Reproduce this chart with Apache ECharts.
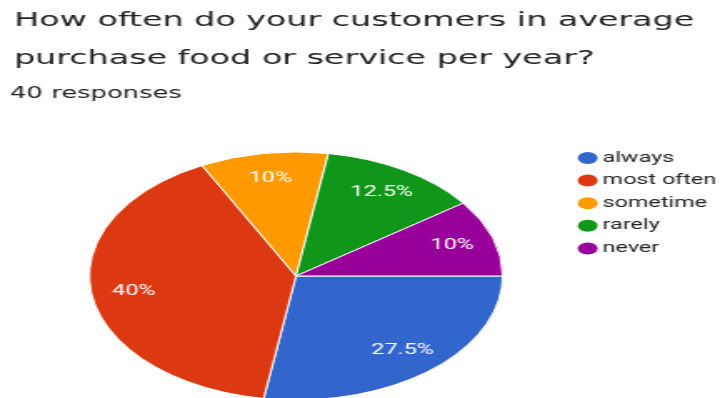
<!DOCTYPE html>
<html>
<head>
<meta charset="utf-8">
<script src="https://cdn.jsdelivr.net/npm/echarts@6/dist/echarts.min.js"></script>
<style>
  html, body { margin: 0; padding: 0; background: #fff; overflow: hidden; }
  /* The chart is laid out narrow and widened horizontally, giving the oval pie */
  #chart { width: 432px; height: 398px; transform: scaleX(1.6667); transform-origin: 0 0; }
</style>
</head>
<body>
<div id="chart"></div>
<script>
// Survey answers (40 responses)
const categories = ['always', 'most often', 'sometime', 'rarely', 'never'];
const counts = [11, 16, 4, 5, 4];
const colors = ['#3366cc', '#dc3912', '#ff9900', '#109618', '#990099'];
const titleText = 'How often do your customers in average\npurchase food or service per year?';
const subtitleText = '40 responses';

const pieData = categories.map((name, i) => ({ name: name, value: counts[i] }));
const center = [177.6, 276];
const radius = 124;

const chart = echarts.init(document.getElementById('chart'));
chart.setOption({
  backgroundColor: '#fff',
  animation: false,
  color: colors,
  title: [
    {
      text: titleText,
      left: 8.4,
      top: 2,
      padding: 0,
      textStyle: {
        fontFamily: 'DejaVu Sans',
        fontSize: 20,
        fontWeight: 'normal',
        lineHeight: 38,
        color: '#202124'
      }
    },
    {
      text: subtitleText,
      left: 6,
      top: 83.5,
      padding: 0,
      textStyle: {
        fontFamily: 'DejaVu Sans',
        fontSize: 15.5,
        fontWeight: 'normal',
        lineHeight: 20,
        color: '#202124'
      }
    }
  ],
  legend: {
    orient: 'vertical',
    left: 344.6,
    top: 150,
    padding: 0,
    icon: 'circle',
    itemWidth: 14,
    itemHeight: 14,
    itemGap: 6.6,
    selectedMode: false,
    data: categories,
    textStyle: {
      fontFamily: 'Roboto',
      fontSize: 14,
      lineHeight: 14,
      padding: [0, 0, 0, -3],
      color: '#222222'
    }
  },
  series: [
    {
      name: 'slices',
      type: 'pie',
      center: center,
      radius: radius,
      startAngle: 0,
      clockwise: true,
      silent: true,
      label: { show: false },
      labelLine: { show: false },
      itemStyle: { borderColor: '#ffffff', borderWidth: 1 },
      data: pieData
    },
    {
      // Invisible ring that places the percentage labels at about 3/4 of the radius
      name: 'labels',
      type: 'pie',
      center: center,
      radius: [67, radius],
      startAngle: 0,
      clockwise: true,
      silent: true,
      percentPrecision: 1,
      itemStyle: { color: 'rgba(0,0,0,0)', borderWidth: 0 },
      labelLine: { show: false },
      label: {
        show: true,
        position: 'inside',
        formatter: '{d}%',
        fontFamily: 'Roboto',
        fontSize: 14,
        color: '#ffffff'
      },
      data: pieData
    }
  ]
});
</script>
</body>
</html>
